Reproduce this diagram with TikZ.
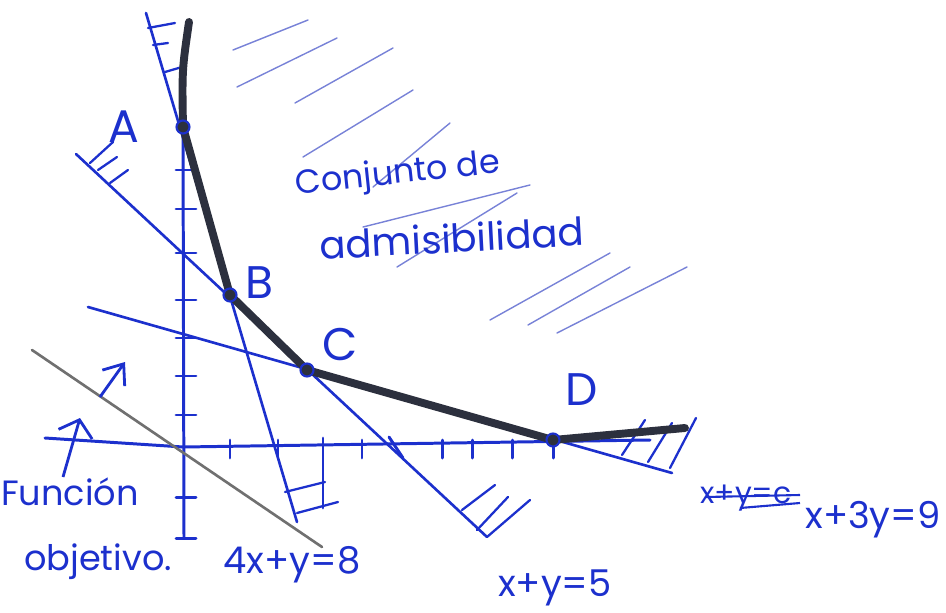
\documentclass[tikz,border=0pt]{standalone}
\usepackage{fontspec}
\setmainfont{Poppins}
\usetikzlibrary{positioning,arrows.meta}
\definecolor{ink}{RGB}{28,48,205}
\definecolor{pencil}{RGB}{44,48,62}
\definecolor{faint}{RGB}{120,130,215}
\definecolor{objgray}{RGB}{112,112,112}

\begin{document}
\begin{tikzpicture}[x=0.02cm, y=-0.02cm,
  axisline/.style={ink, line width=1.7pt, line cap=round},
  restr/.style={ink, line width=1.5pt, line cap=round},
  hatch/.style={ink, line width=1.3pt, line cap=round},
  regionhatch/.style={faint, line width=0.8pt, line cap=round},
  frontier/.style={pencil, line width=4.5pt, line cap=round, line join=round},
  vert/.style={circle, draw=ink, fill=pencil, line width=1.2pt, inner sep=0pt, minimum size=0.26cm},
  lbl/.style={ink, font=\fontsize{26}{26}\selectfont},
  eqn/.style={ink, font=\fontsize{21}{21}\selectfont},
  hand/.style={ink, font=\fontsize{#1}{#1}\selectfont, align=center},
  ar/.style={-{Straight Barb[#1]}, ink, line width=1.6pt},
]
\useasboundingbox (0,0) rectangle (946,612);

\coordinate (O) at (183,447);
\coordinate (pA) at (183,127);
\coordinate (pB) at (230,295);
\coordinate (pC) at (307,370);
\coordinate (pD) at (553,440);

% conjunto de admisibilidad
\foreach \xa/\ya/\xb/\yb in {233/50/308/20, 237/87/337/38, 295/103/393/48, 303/157/413/90,
    373/187/450/123, 363/227/530/185, 397/267/517/193, 490/320/610/253,
    528/325/630/267, 557/333/687/267}
  \draw[regionhatch] (\xa,\ya) -- (\xb,\yb);

% ejes
\draw[axisline] (45,438) -- (O) -- (650,440);
\draw[axisline] (pA) -- (184,538);
\foreach \ty in {170,209,253,300,338,376,415,497,538}
  \draw[axisline] (176,\ty) -- (196,\ty);
\foreach \tx in {230,278,362,442,472,512,553}
  \draw[axisline] (\tx,440) -- (\tx,458);
\draw[axisline] (323,438) -- (323,508);
\draw[axisline] (389,437) -- (403,458);

% restricciones
\draw[restr] (146,13) -- (297,522);
\draw[restr] (76,154) -- (487,537);
\draw[restr] (88,307) -- (672,473);

\foreach \xa/\ya/\xb/\yb in {148/28/175/23, 153/45/168/43, 165/72/182/67,
    90/163/113/142, 98/170/117/157, 110/183/128/170,
    285/492/325/482, 297/513/338/502,
    462/510/495/485, 477/530/508/497, 487/537/530/500,
    622/455/645/420, 648/462/672/423, 670/468/696/418}
  \draw[hatch] (\xa,\ya) -- (\xb,\yb);

% funcion objetivo
\draw[objgray, line width=1.5pt, line cap=round] (32,350) -- (322,547);
\draw[ar={length=3.5mm,width=5.5mm}] (100,397) -- (125,362);
\draw[ar={length=3mm,width=7mm}] (63,477) -- (80,418);

% frontera
\draw[frontier] (189,22) .. controls (182,70) .. (pA) -- (pB) -- (pC) -- (pD) -- (685,428);

\node[vert] (A) at (pA) {};
\node[vert] (B) at (pB) {};
\node[vert] (C) at (pC) {};
\node[vert] (D) at (pD) {};

\node[lbl, left=0.6cm of A] (labA) {A};
\node[lbl] (labB) at (259,283) {B};
\node[lbl] (labC) at (340,345) {C};
\node[lbl] (labD) at (582,390) {D};

\node[hand=19, rotate=6] (conj) at (398,175) {Conjunto de};
\node[hand=22, rotate=3] (adm) at (452,238) {admisibilidad};

\node[hand=20] (fun) at (70,492) {Función};
\node[hand=20] (obj) at (98,562) {objetivo.};

\node[eqn] (r1) at (292,565) {4x+y=8};
\node[eqn] (r2) at (555,588) {x+y=5};
\node[eqn] (r3) at (873,520) {x+3y=9};
\node[hand=17] (old) at (746,498) {x+y=c};
\draw[ink, line width=1.2pt] (706,497) -- (800,495);
\draw[ink, line width=1.2pt] (740,508) -- (800,503);

\end{tikzpicture}
\end{document}
